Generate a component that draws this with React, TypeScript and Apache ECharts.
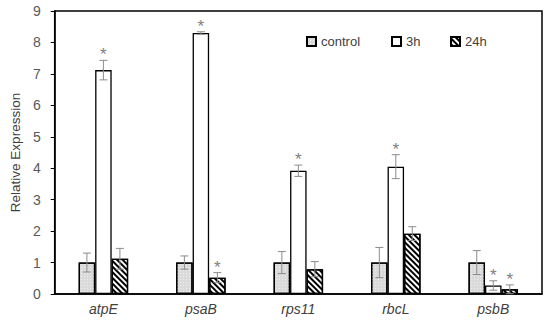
import React, { useEffect, useRef } from "react";
import * as echarts from "echarts";

const categories = ["atpE", "psaB", "rps11", "rbcL", "psbB"];
const controlVals = [1.0, 1.0, 1.0, 1.0, 1.0];
const controlErr = [0.3, 0.21, 0.35, 0.48, 0.38];
const h3Vals = [7.12, 8.3, 3.92, 4.05, 0.27];
const h3Err = [0.31, 0.04, 0.18, 0.38, 0.15];
const h24Vals = [1.12, 0.52, 0.79, 1.92, 0.15];
const h24Err = [0.33, 0.16, 0.24, 0.22, 0.14];
const controlSig = [0, 0, 0, 0, 0];
const h3Sig = [1, 1, 1, 1, 1];
const h24Sig = [0, 1, 0, 0, 1];
const yTicks = [0, 1, 2, 3, 4, 5, 6, 7, 8, 9];

const BAR_W = 16.5;
const FONT = "Arial, 'Liberation Sans', sans-serif";

function errSeries(name: string, vals: number[], errs: number[], sig: number[], offset: number) {
  return {
    type: "custom",
    name: name + "-err",
    z: 10,
    silent: true,
    data: vals.map((v, i) => [i, v, errs[i], sig[i]]),
    renderItem: (params: any, api: any) => {
      const i = api.value(0);
      const v = api.value(1);
      const e = api.value(2);
      const s = api.value(3);
      const hi = api.coord([i, v + e]);
      const lo = api.coord([i, Math.max(0, v - e)]);
      const x = hi[0] + offset;
      const st = { stroke: "#8c8c8c", lineWidth: 1 };
      const children: any[] = [
        { type: "line", shape: { x1: x, y1: hi[1], x2: x, y2: lo[1] }, style: st },
        { type: "line", shape: { x1: x - 4, y1: hi[1], x2: x + 4, y2: hi[1] }, style: st },
        { type: "line", shape: { x1: x - 4, y1: lo[1], x2: x + 4, y2: lo[1] }, style: st },
      ];
      if (s) {
        children.push({
          type: "text",
          style: {
            text: "*",
            x: x,
            y: hi[1] + 3,
            align: "center",
            verticalAlign: "bottom",
            fill: "#808080",
            font: "17px " + FONT,
          },
        });
      }
      return { type: "group", children };
    },
  };
}

export default function App() {
  const ref = useRef<HTMLDivElement>(null);
  useEffect(() => {
    if (!ref.current) return;
    const chart = echarts.init(ref.current, undefined, { renderer: "svg" });
    const legendText = { color: "#404040", fontSize: 13, fontFamily: FONT };
    const legendBase = {
      top: 35,
      padding: 0,
      icon: "rect",
      itemWidth: 9,
      itemHeight: 9,
      itemGap: 5,
      textStyle: legendText,
    };
    chart.setOption({
      animation: false,
      grid: {
        left: 48,
        right: 8,
        top: 11,
        bottom: 29,
        show: true,
        borderColor: "#000",
        borderWidth: 1.5,
        backgroundColor: "transparent",
      },
      legend: [
        { ...legendBase, data: ["control"], left: 306 },
        { ...legendBase, data: ["3h"], left: 391 },
        { ...legendBase, data: ["24h"], left: 450 },
      ],
      xAxis: {
        type: "category",
        data: categories,
        axisLine: { lineStyle: { color: "#000", width: 1.5 } },
        axisTick: { show: false },
        axisLabel: {
          color: "#404040",
          fontSize: 14,
          fontStyle: "italic",
          fontFamily: FONT,
          margin: 8,
        },
      },
      yAxis: {
        type: "value",
        min: 0,
        max: 9,
        interval: 1,
        name: "Relative Expression",
        nameLocation: "middle",
        nameGap: 32,
        nameTextStyle: { color: "#404040", fontSize: 13.5, fontFamily: FONT },
        axisLine: { show: true, lineStyle: { color: "#000", width: 1.5 } },
        axisTick: { show: true, inside: false, length: 4, lineStyle: { color: "#000" } },
        splitLine: { show: false },
        axisLabel: {
          color: "#595959",
          fontSize: 14,
          fontFamily: FONT,
          margin: 14,
          formatter: (v: number) => (yTicks.includes(v) ? String(v) : ""),
        },
      },
      series: [
        {
          type: "bar",
          name: "control",
          data: controlVals,
          barWidth: BAR_W,
          barGap: "0%",
          itemStyle: {
            color: "#dadada",
            borderColor: "#000",
            borderWidth: 1.3,
            decal: {
              symbol: "rect",
              symbolSize: 1,
              color: "rgba(255,255,255,0.55)",
              dashArrayX: [1, 2],
              dashArrayY: [1, 2],
              rotation: 0,
            },
          },
        },
        {
          type: "bar",
          name: "3h",
          data: h3Vals,
          barWidth: BAR_W,
          barGap: "0%",
          itemStyle: { color: "#ffffff", borderColor: "#000", borderWidth: 1.3 },
        },
        {
          type: "bar",
          name: "24h",
          data: h24Vals,
          barWidth: BAR_W,
          barGap: "0%",
          itemStyle: {
            color: "#ffffff",
            borderColor: "#000",
            borderWidth: 1.3,
            decal: {
              symbol: "rect",
              symbolSize: 1,
              color: "#000",
              dashArrayX: [1, 0],
              dashArrayY: [1.6, 1.6],
              rotation: Math.PI / 4,
            },
          },
        },
        errSeries("control", controlVals, controlErr, controlSig, -BAR_W),
        errSeries("3h", h3Vals, h3Err, h3Sig, 0),
        errSeries("24h", h24Vals, h24Err, h24Sig, BAR_W),
      ],
    });
    return () => chart.dispose();
  }, []);
  return <div ref={ref} style={{ width: 550, height: 323, position: "absolute", left: 0, top: 0 }} />;
}
